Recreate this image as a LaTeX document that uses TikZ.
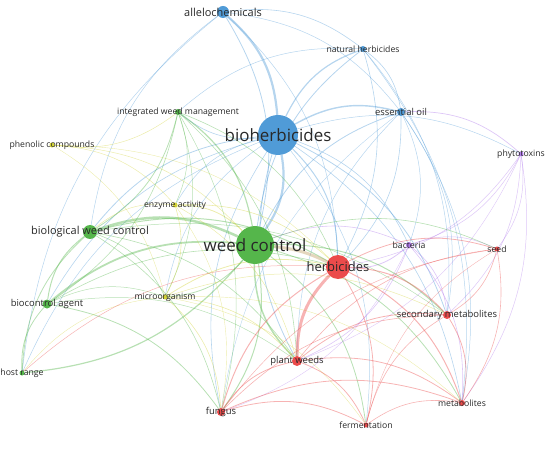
\documentclass[tikz,border=0pt]{standalone}
\usepackage{fontspec}
\setmainfont{Open Sans}
\usetikzlibrary{backgrounds}

\definecolor{cblue}{RGB}{80,155,215}
\definecolor{cgreen}{RGB}{85,182,75}
\definecolor{cred}{RGB}{235,75,75}
\definecolor{cyel}{RGB}{210,210,55}
\definecolor{cpurp}{RGB}{175,120,235}
\definecolor{ctan}{RGB}{190,160,100}
\definecolor{labtxt}{RGB}{40,40,40}

\begin{document}
\begin{tikzpicture}[
    x=1bp, y=-1bp,
    term/.style={circle, inner sep=0pt, fill=#1},
    lbXL/.style={font=\fontsize{17}{17}\selectfont, text=labtxt, inner sep=0pt},
    lbL/.style={font=\fontsize{13}{13}\selectfont, text=labtxt, inner sep=0pt},
    lbM/.style={font=\fontsize{11}{11}\selectfont, text=labtxt, inner sep=0pt},
    lbS/.style={font=\fontsize{9.5}{9.5}\selectfont, text=labtxt, inner sep=0pt},
    lbXS/.style={font=\fontsize{8.7}{8.7}\selectfont, text=labtxt, inner sep=0pt},
    lnk/.style={draw=#1, draw opacity=0.42},
  ]
    \useasboundingbox (0,0) rectangle (550,450);

    % ---------- blue cluster ----------
    \node[term=cblue, minimum size=12bp, label={[lbM]center:allelochemicals}] (alle) at (223,12) {};
    \node[term=cblue, minimum size=6bp, label={[lbXS]center:natural herbicides}] (nath) at (363,49) {};
    \node[term=cblue, minimum size=8bp, label={[lbS]center:essential oil}] (esso) at (401,112) {};
    \node[term=cblue, minimum size=40bp, label={[lbXL]center:bioherbicides}] (bioh) at (278,135) {};
    % ---------- purple cluster ----------
    \node[term=cpurp, minimum size=5bp, label={[lbXS]center:phytotoxins}] (phyt) at (521,154) {};
    \node[term=cpurp, minimum size=6bp, label={[lbXS]center:bacteria}] (bact) at (409,245) {};
    % ---------- yellow cluster ----------
    \node[term=cyel, minimum size=5bp, label={[lbXS]center:phenolic compounds}] (phen) at (52,145) {};
    \node[term=cyel, minimum size=5bp, label={[lbXS]center:enzyme activity}] (enz) at (175,205) {};
    \node[term=cyel, minimum size=5bp, label={[lbXS]center:microorganism}] (micro) at (165,297) {};
    % ---------- green cluster ----------
    \node[term=cgreen, minimum size=6bp, label={[lbXS]center:integrated weed management}] (iwm) at (178,112) {};
    \node[term=cgreen, minimum size=14bp, label={[lbM]center:biological weed control}] (bwc) at (90,232) {};
    \node[term=cgreen, minimum size=38bp, label={[lbXL]center:weed control}] (wc) at (255,245) {};
    \node[term=cgreen, minimum size=9bp, label={[lbS]center:biocontrol agent}] (bca) at (47,304) {};
    \node[term=cgreen, minimum size=5bp, label={[lbXS]center:host range}] (host) at (22,373) {};
    % ---------- red cluster ----------
    \node[term=cred, minimum size=24bp, label={[lbL]center:herbicides}] (herb) at (338,267) {};
    \node[term=cred, minimum size=5bp, label={[lbXS]center:seed}] (seed) at (497,249) {};
    \node[term=cred, minimum size=8bp, label={[lbS]center:secondary metabolites}] (secm) at (447,315) {};
    \node[term=cred, minimum size=10bp, label={[lbS]center:plant weeds}] (pw) at (297,361) {};
    \node[term=cred, minimum size=8bp, label={[lbS]center:fungus}] (fung) at (221,412) {};
    \node[term=cred, minimum size=6bp, label={[lbXS]center:metabolites}] (metab) at (462,403) {};
    \node[term=cred, minimum size=5bp, label={[lbXS]center:fermentation}] (ferm) at (366,425) {};

    \begin{scope}[on background layer]
      % blue links
      \foreach \a/\b/\w in {alle/bioh/2.2, bioh/nath/1.2, bioh/esso/1.4, bioh/wc/2.2, bioh/herb/1.0,
          bioh/iwm/0.6, bwc/bioh/0.8, bioh/bact/0.6, bioh/secm/0.8, pw/bioh/0.8, fung/bioh/0.6,
          bioh/metab/0.6, micro/bioh/0.5, enz/bioh/0.5, bca/bioh/0.6, host/bioh/0.5, bioh/phyt/0.5,
          bioh/ferm/0.5, alle/wc/0.8, alle/nath/0.6, alle/esso/0.5, alle/herb/0.5, bwc/alle/0.5,
          host/alle/0.5, nath/esso/0.6, wc/nath/0.8, nath/herb/0.6, nath/secm/0.5, nath/metab/0.5,
          iwm/nath/0.5, esso/herb/0.6, wc/esso/0.8, esso/secm/0.5, esso/bact/0.5, esso/metab/0.5,
          pw/esso/0.5, fung/esso/0.4}
        \draw[lnk=cblue, line width=\w pt] (\a) to[bend left=22] (\b);
      % purple links
      \foreach \a/\b/\w in {esso/phyt/0.7, phyt/herb/0.5, phyt/bact/0.5, phyt/secm/0.5, phyt/metab/0.5,
          phyt/seed/0.5, phyt/pw/0.4, wc/bact/0.6, bact/herb/0.8, bact/secm/0.6, bact/metab/0.6,
          bact/pw/0.6, bact/seed/0.5, bact/fung/0.4}
        \draw[lnk=cpurp, line width=\w pt] (\a) to[bend left=22] (\b);
      % green links
      \foreach \a/\b/\w in {iwm/wc/1.2, iwm/bwc/0.8, iwm/bca/0.6, iwm/herb/0.6, iwm/micro/0.5,
          iwm/pw/0.6, iwm/fung/0.5, iwm/enz/0.5, bwc/wc/2.5, bca/bwc/1.0, host/bwc/0.8, bwc/herb/1.0,
          bwc/micro/0.6, bwc/fung/0.6, bwc/pw/0.6, bwc/secm/0.5, bca/wc/1.8, wc/host/1.2,
          wc/micro/0.8, wc/fung/1.0, pw/wc/1.5, wc/secm/1.0, wc/metab/0.8, wc/ferm/0.8, wc/seed/0.6,
          host/bca/0.8, bca/micro/0.5, bca/fung/0.8, bca/pw/0.5, bca/herb/0.6}
        \draw[lnk=cgreen, line width=\w pt] (\a) to[bend left=22] (\b);
      % yellow links
      \foreach \a/\b/\w in {iwm/phen/0.5, phen/wc/0.5, phen/enz/0.5, phen/micro/0.4, phen/herb/0.4,
          enz/wc/0.8, enz/micro/0.6, enz/herb/0.6, bwc/enz/0.5, enz/pw/0.5, enz/fung/0.4,
          micro/fung/0.6, micro/pw/0.6, micro/herb/0.8, micro/secm/0.5, micro/metab/0.4,
          micro/ferm/0.4, host/micro/0.4}
        \draw[lnk=cyel, line width=\w pt] (\a) to[bend left=22] (\b);
      % red links
      \foreach \a/\b/\w in {pw/herb/3.0, herb/seed/0.8, herb/secm/1.0, herb/metab/1.0, herb/ferm/0.8,
          fung/herb/1.0, host/herb/0.5, seed/secm/0.6, seed/metab/0.6, pw/seed/0.6, fung/seed/0.5,
          ferm/seed/0.4, secm/metab/0.8, pw/secm/0.8, ferm/secm/0.6, fung/secm/0.6, pw/metab/0.8,
          pw/ferm/0.8, fung/pw/0.8, fung/metab/0.8, fung/ferm/0.8, ferm/metab/0.6}
        \draw[lnk=cred, line width=\w pt] (\a) to[bend left=22] (\b);
      % mixed links
      \draw[lnk=ctan, line width=3pt] (wc) to[bend left=10] (herb);
    \end{scope}
  \end{tikzpicture}
\end{document}
